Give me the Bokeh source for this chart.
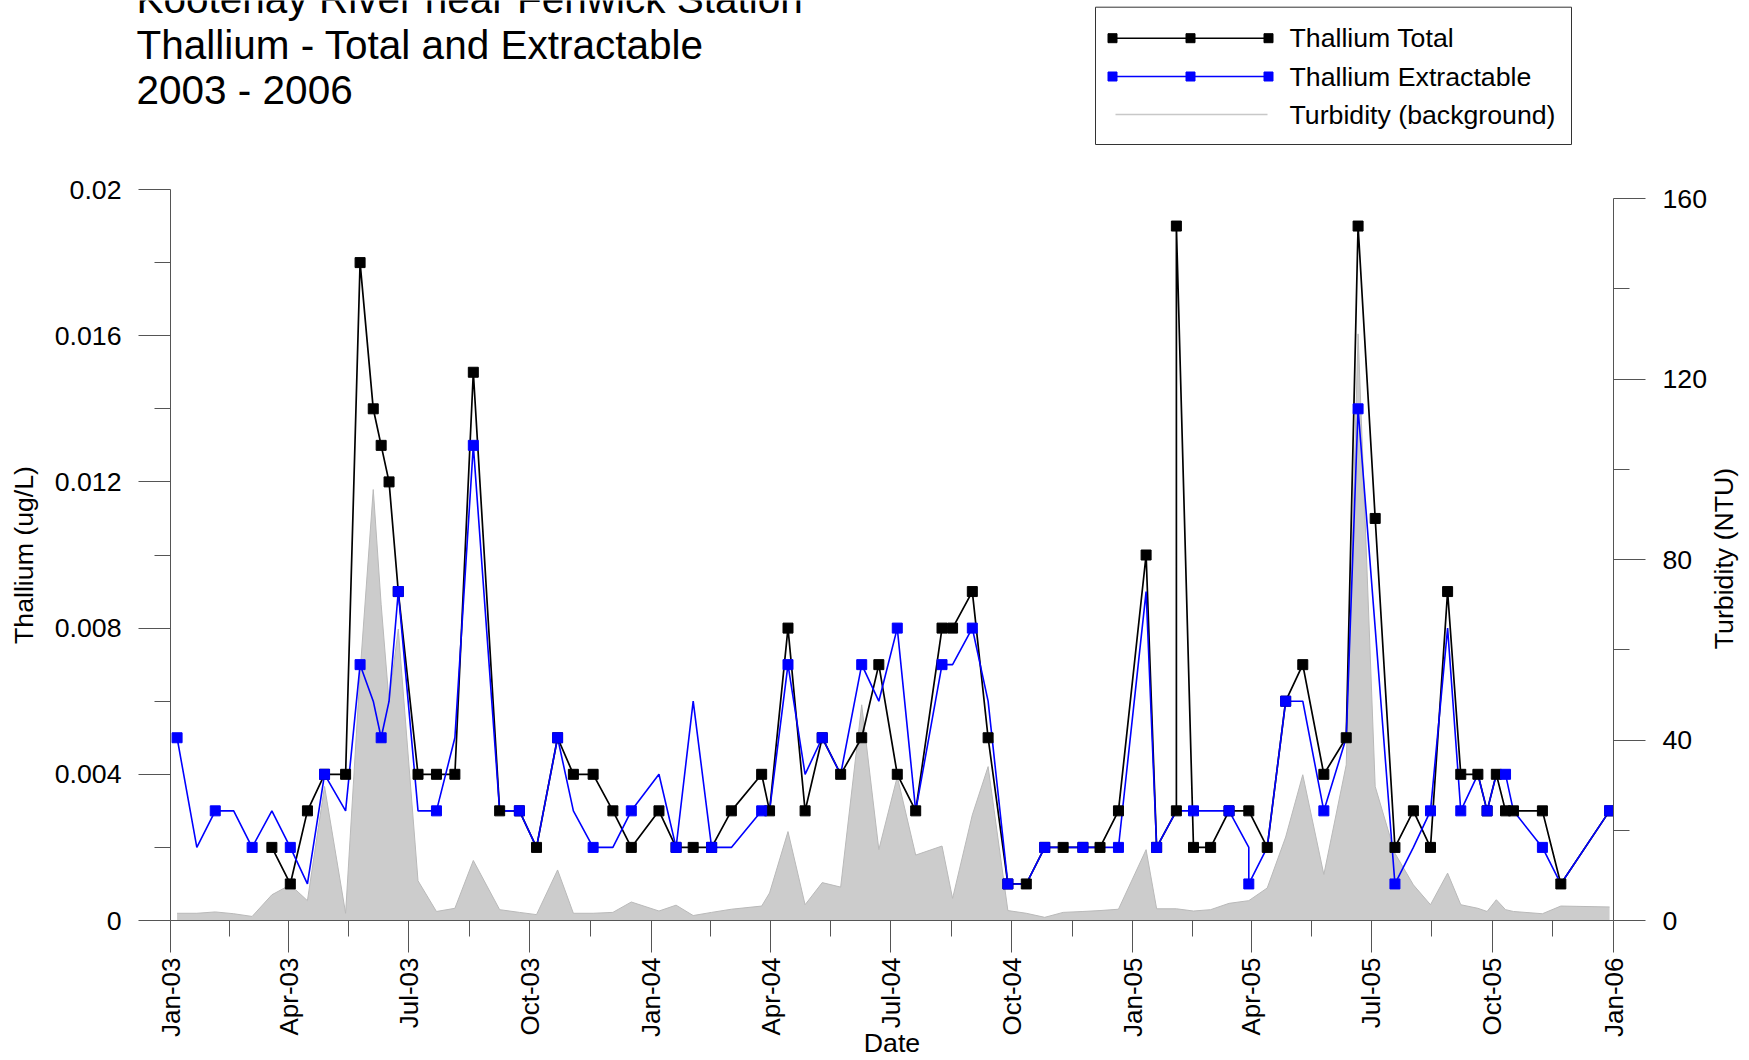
import math
import datetime as dt
from bokeh.plotting import figure
from bokeh.layouts import column, row
from bokeh.models import (Range1d, LinearAxis, FixedTicker, DatetimeTickFormatter,
                          NumeralTickFormatter, ColumnDataSource)
from bokeh.embed import file_html
from bokeh.resources import INLINE
from bokeh.core.properties import value

FONT = "Liberation Sans"

# ---------------- data ----------------
ext_dates = ["2003-01-06", "2003-01-21", "2003-02-04", "2003-02-18", "2003-03-04", "2003-03-19",
             "2003-04-02", "2003-04-15", "2003-04-28", "2003-05-14", "2003-05-25", "2003-06-04",
             "2003-06-10", "2003-06-16", "2003-06-23", "2003-07-08", "2003-07-22", "2003-08-05",
             "2003-08-19", "2003-09-08", "2003-09-23", "2003-10-06", "2003-10-22", "2003-11-03",
             "2003-11-18", "2003-12-03", "2003-12-17",
             "2004-01-07", "2004-01-20", "2004-02-02", "2004-02-16", "2004-03-02", "2004-03-25",
             "2004-03-31", "2004-04-14", "2004-04-27", "2004-05-10", "2004-05-24", "2004-06-09",
             "2004-06-22", "2004-07-06", "2004-07-20", "2004-08-09", "2004-08-17", "2004-09-01",
             "2004-09-13", "2004-09-28", "2004-10-12", "2004-10-26", "2004-11-09", "2004-11-24",
             "2004-12-07", "2004-12-21",
             "2005-01-11", "2005-01-19", "2005-02-03", "2005-02-16", "2005-03-01", "2005-03-15",
             "2005-03-30", "2005-03-30", "2005-04-13", "2005-04-27", "2005-05-10", "2005-05-26",
             "2005-06-12", "2005-06-21", "2005-07-04", "2005-07-19", "2005-08-02", "2005-08-15",
             "2005-08-28", "2005-09-07", "2005-09-20", "2005-09-27", "2005-10-04", "2005-10-11",
             "2005-10-17", "2005-11-08", "2005-11-22", "2005-12-29"]

ext_vals = [0.005, 0.002, 0.003, 0.003, 0.002, 0.003, 0.002, 0.001, 0.004, 0.003, 0.007, 0.006,
            0.005, 0.006, 0.009, 0.003, 0.003, 0.005, 0.013, 0.003, 0.003, 0.002, 0.005, 0.003,
            0.002, 0.002, 0.003,
            0.004, 0.002, 0.006, 0.002, 0.002, 0.003, 0.003, 0.007, 0.004, 0.005, 0.004, 0.007,
            0.006, 0.008, 0.003, 0.007, 0.007, 0.008, 0.006, 0.001, 0.001, 0.002, 0.002, 0.002,
            0.002, 0.002,
            0.009, 0.002, 0.003, 0.003, 0.003, 0.003, 0.002, 0.001, 0.002, 0.006, 0.006, 0.003,
            0.005, 0.014, 0.008, 0.001, 0.002, 0.003, 0.008, 0.003, 0.004, 0.003, 0.004, 0.004,
            0.003, 0.002, 0.001, 0.003]

turb_vals = [1.6, 1.6, 1.9, 1.5, 0.9, 5.7, 7.9, 4.4, 29.7, 1.6, 55.0, 95.5,
             70.0, 48.5, 64.6, 8.8, 2.0, 2.7, 13.3, 2.4, 1.8, 1.3, 11.2, 1.6,
             1.6, 1.8, 4.1,
             2.1, 3.4, 1.1, 1.8, 2.5, 3.2, 6.1, 19.7, 3.5, 8.4, 7.4, 47.8,
             15.7, 31.9, 14.5, 16.5, 4.9, 23.4, 34.1, 2.2, 1.6, 0.7, 1.8, 2.0,
             2.2, 2.5,
             15.7, 2.6, 2.6, 2.1, 2.4, 3.8, 4.4, 4.4, 7.2, 18.5, 32.3, 10.2,
             34.5, 130.0, 29.7, 14.9, 7.9, 3.5, 10.5, 3.5, 2.7, 2.0, 4.6, 2.4,
             2.0, 1.5, 3.2, 3.0]

total_dates = ["2003-03-19", "2003-04-02", "2003-04-15", "2003-04-28", "2003-05-14", "2003-05-25",
               "2003-06-04", "2003-06-10", "2003-06-16", "2003-06-23", "2003-07-08", "2003-07-22",
               "2003-08-05", "2003-08-19", "2003-09-08", "2003-09-23", "2003-10-06", "2003-10-22",
               "2003-11-03", "2003-11-18", "2003-12-03", "2003-12-17",
               "2004-01-07", "2004-01-20", "2004-02-02", "2004-02-16", "2004-03-02", "2004-03-25",
               "2004-03-31", "2004-04-14", "2004-04-27", "2004-05-10", "2004-05-24", "2004-06-09",
               "2004-06-22", "2004-07-06", "2004-07-20", "2004-08-09", "2004-08-17", "2004-09-01",
               "2004-09-13", "2004-09-28", "2004-10-12", "2004-10-26", "2004-11-09", "2004-11-24",
               "2004-12-07", "2004-12-21",
               "2005-01-11", "2005-01-19", "2005-02-03", "2005-02-03", "2005-02-16", "2005-03-01",
               "2005-03-15", "2005-03-30", "2005-04-13", "2005-04-27", "2005-05-10", "2005-05-26",
               "2005-06-12", "2005-06-21", "2005-07-04", "2005-07-19", "2005-08-02", "2005-08-15",
               "2005-08-28", "2005-09-07", "2005-09-20", "2005-09-27", "2005-10-04", "2005-10-11",
               "2005-10-17", "2005-11-08", "2005-11-22", "2005-12-29"]

total_vals = [0.002, 0.001, 0.003, 0.004, 0.004, 0.018, 0.014, 0.013, 0.012, 0.009, 0.004, 0.004,
              0.004, 0.015, 0.003, 0.003, 0.002, 0.005, 0.004, 0.004, 0.003, 0.002,
              0.003, 0.002, 0.002, 0.002, 0.003, 0.004, 0.003, 0.008, 0.003, 0.005, 0.004, 0.005,
              0.007, 0.004, 0.003, 0.008, 0.008, 0.009, 0.005, 0.001, 0.001, 0.002, 0.002, 0.002,
              0.002, 0.003,
              0.010, 0.002, 0.003, 0.019, 0.002, 0.002, 0.003, 0.003, 0.002, 0.006, 0.007, 0.004,
              0.005, 0.019, 0.011, 0.002, 0.003, 0.002, 0.009, 0.004, 0.004, 0.003, 0.004, 0.003,
              0.003, 0.003, 0.001, 0.003]

title_lines = ["Kootenay River near Fenwick Station", "Thallium - Total and Extractable", "2003 - 2006"]
legend_labels = ["Thallium Total", "Thallium Extractable", "Turbidity (background)"]
right_title = "Turbidity (NTU)"
x_tick_dates = ["2003-01-01", "2003-04-01", "2003-07-01", "2003-10-01", "2004-01-01", "2004-04-01",
                "2004-07-01", "2004-10-01", "2005-01-01", "2005-04-01", "2005-07-01", "2005-10-01",
                "2006-01-01"]
y_left_ticks = [0, 0.004, 0.008, 0.012, 0.016, 0.02]
y_left_minor = [0.002, 0.006, 0.010, 0.014, 0.018]
y_right_ticks = [0, 40, 80, 120, 160]
y_right_minor = [20, 60, 100, 140]

# ---------------- helpers ----------------
EPOCH = dt.datetime(1970, 1, 1)


def d(s):
    return dt.datetime.strptime(s, "%Y-%m-%d")


def ms(x):
    return (x - EPOCH).total_seconds() * 1000.0


BLUE = "#0000ff"
GRAY_FILL = "#cccccc"
AXIS_COL = "#555555"

W = 1745
TOP_H = 160
FRAME_W, FRAME_H = 1443, 731
LEFT_B = 170
TOP_B = 29
MAIN_H = 898
MAIN_W = 1708           # main plot canvas width (right axis labels end ~1707)
SIDE_W = W - MAIN_W     # narrow strip holding the right axis title

# ---------------- top panel: title + legend ----------------
top = figure(width=W, height=TOP_H, x_range=Range1d(0, W), y_range=Range1d(TOP_H, 0),
             toolbar_location=None, output_backend="svg", min_border=0,
             x_axis_location=None, y_axis_location=None, outline_line_color=None)
top.grid.visible = False
top.frame_align = False

top.text(x=[136, 136, 136], y=[-2, 44, 89.5], text=title_lines,
         text_font=value(FONT), text_font_size="40.5px", text_baseline="middle",
         text_color="black")

# legend frame
top.quad(left=[1095], right=[1571], top=[6.7], bottom=[144], fill_color=None,
         line_color="#333333", line_width=1)
rows = [37.7, 76, 114]
lx0, lx1 = 1112, 1268
lxm = [1112, 1190, 1268]
top.line([lx0, lx1], [rows[0], rows[0]], line_color="black", line_width=1.6)
top.scatter(lxm, [rows[0]] * 3, marker="square", size=9, color="black")
top.line([lx0, lx1], [rows[1], rows[1]], line_color=BLUE, line_width=1.6)
top.scatter(lxm, [rows[1]] * 3, marker="square", size=9, color=BLUE)
top.line([lx0 + 3, lx1 - 1], [rows[2], rows[2]], line_color="#c8c8c8", line_width=1.5)
top.text(x=[1289] * 3, y=rows, text=legend_labels, text_font=value(FONT),
         text_font_size="26.7px", text_baseline="middle", text_color="black")

# ---------------- main plot ----------------
ext_src = ColumnDataSource(dict(x=[d(s) for s in ext_dates], y=ext_vals, t=turb_vals))
ext_mark_src = ColumnDataSource(dict(x=[d(s) for s in ext_dates[::2]], y=ext_vals[::2]))
tot_src = ColumnDataSource(dict(x=[d(s) for s in total_dates], y=total_vals))

p = figure(frame_width=FRAME_W, frame_height=FRAME_H, x_axis_type="datetime",
           x_range=Range1d(d(x_tick_dates[0]), d(x_tick_dates[-1])),
           y_range=Range1d(0, y_left_ticks[-1]),
           min_border_left=LEFT_B, min_border_right=MAIN_W - LEFT_B - FRAME_W,
           min_border_top=TOP_B, min_border_bottom=MAIN_H - TOP_B - FRAME_H,
           toolbar_location=None, output_backend="svg", outline_line_color=None)
p.frame_align = False
p.grid.visible = False
p.extra_y_ranges = {"turb": Range1d(0, y_right_ticks[-1] * FRAME_H / 722.0)}

p.varea(x="x", y1=0, y2="t", source=ext_src, y_range_name="turb", fill_color=GRAY_FILL)
p.line(x="x", y="t", source=ext_src, y_range_name="turb", line_color="#b9b9b9", line_width=1)

p.line(x="x", y="y", source=tot_src, line_color="black", line_width=1.7)
p.line(x="x", y="y", source=ext_src, line_color=BLUE, line_width=1.6)
p.scatter(x="x", y="y", source=tot_src, marker="square", size=10, color="black")
p.scatter(x="x", y="y", source=ext_mark_src, marker="square", size=10, color=BLUE)

ra = LinearAxis(y_range_name="turb")
p.add_layout(ra, "right")

xa = p.xaxis[0]
ya = p.yaxis[0]

for ax in (xa, ya, ra):
    ax.axis_line_color = AXIS_COL
    ax.major_tick_line_color = AXIS_COL
    ax.minor_tick_line_color = AXIS_COL
    ax.major_tick_in = 0
    ax.minor_tick_in = 0
    ax.major_tick_out = 32
    ax.minor_tick_out = 16
    ax.major_label_text_font = FONT
    ax.major_label_text_font_size = "26.7px"
    ax.major_label_text_color = "black"
    ax.axis_label_text_font = FONT
    ax.axis_label_text_font_size = "26.7px"
    ax.axis_label_text_font_style = "normal"
    ax.axis_label_text_color = "black"

xt = [ms(d(s)) for s in x_tick_dates]
xa.ticker = FixedTicker(ticks=xt, minor_ticks=[(a + b) / 2 for a, b in zip(xt[:-1], xt[1:])])
xa.formatter = DatetimeTickFormatter(milliseconds="%b-%y", seconds="%b-%y", minsec="%b-%y",
                                     minutes="%b-%y", hourmin="%b-%y", hours="%b-%y",
                                     days="%b-%y", months="%b-%y", years="%b-%y")
xa.major_label_orientation = math.pi / 2
xa.major_label_text_font_size = "26px"
xa.major_label_standoff = 5
xa.axis_label = "Date"
xa.axis_label_standoff = -12

ya.ticker = FixedTicker(ticks=y_left_ticks, minor_ticks=y_left_minor)
ya.formatter = NumeralTickFormatter(format="0.[000]")
ya.major_label_standoff = 17
ya.axis_label = "Thallium (ug/L)"
ya.axis_label_standoff = 13
ya.bounds = (y_left_ticks[0], y_left_ticks[-1])

ra.ticker = FixedTicker(ticks=y_right_ticks, minor_ticks=y_right_minor)
ra.major_label_standoff = 17
ra.bounds = (y_right_ticks[0], y_right_ticks[-1])

# ---------------- narrow strip with the right axis title (reads bottom-to-top) ----------------
side = figure(width=SIDE_W, height=MAIN_H, x_range=Range1d(0, SIDE_W), y_range=Range1d(MAIN_H, 0),
              toolbar_location=None, output_backend="svg", min_border=0,
              x_axis_location=None, y_axis_location=None, outline_line_color=None)
side.grid.visible = False
side.frame_align = False
side.text(x=[1721.5 - MAIN_W], y=[398], text=[right_title], angle=math.pi / 2,
          text_align="center", text_baseline="middle", text_font=value(FONT),
          text_font_size="26.7px", text_color="black")

layout = column(top, row(p, side, spacing=0), spacing=0)

open("out.html", "w").write(file_html(layout, INLINE))
